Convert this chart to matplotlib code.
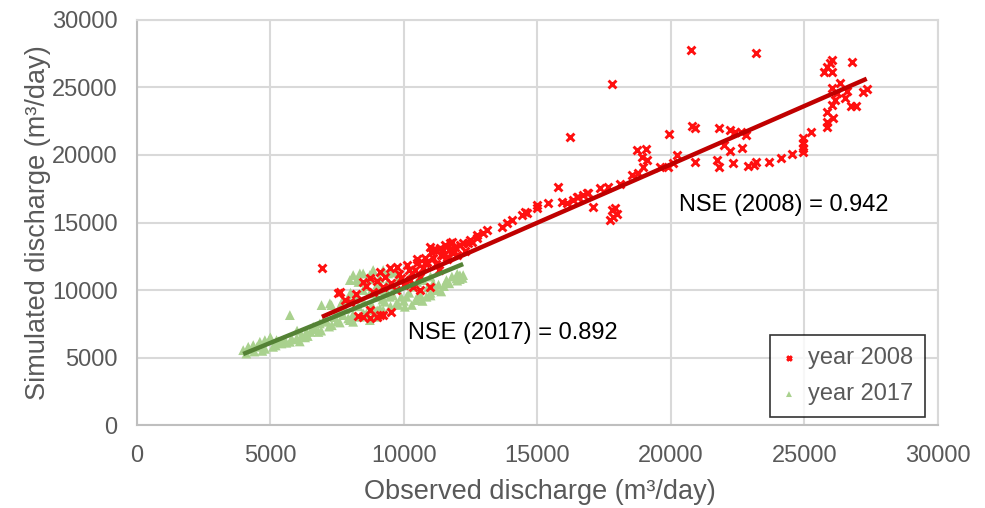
import numpy as np
import matplotlib
matplotlib.use('Agg')
import matplotlib.pyplot as plt

plt.rcParams['font.family'] = ['Liberation Sans', 'DejaVu Sans']

# Observed / simulated discharge (m3/day)
obs_2008 = [26030, 25950, 25840, 25730, 26030, 26780, 26330, 26030, 26590, 26220,
            26520, 27340, 27190, 26140, 26030, 25840, 26070, 25840, 25840, 26740,
            26930, 25240, 24940, 24940, 24940, 24940, 24530, 24120, 23670, 23180,
            23110, 22880, 22660, 22810, 22620, 23180, 20770, 17780, 16220,
            19920, 20780, 20900, 21800, 22210, 22400, 21980, 22210, 21720, 21800,
            22320, 20900, 18730, 19060, 18910, 19100, 18950, 18760, 20220, 20070,
            19890, 19590, 18540, 18090, 17640, 17340, 16850, 16520, 16330, 16100,
            17790, 17900, 17830, 17710, 17980, 15770, 15390, 15920, 14980, 14980,
            14530, 14420, 14610, 14040, 13860, 13670, 13110, 12960, 12730, 12550,
            16480, 16700, 16890, 17080, 11720, 11830, 11460, 11610,
            12730, 12470, 12210, 11800, 11540, 11350, 11090, 10970, 11830, 11460,
            11090, 10860, 10490, 10110, 9740, 9480, 9100, 8730, 8460, 10220,
            10340, 9210, 8840, 7600, 9100, 8730, 8460, 8990, 9210, 6930,
            7530, 7790, 7980, 9500, 9900, 10300, 10700, 11200, 11600, 12000,
            12300, 10600, 11300, 10000, 9700, 10800, 11200, 10400, 10970, 10600,
            8730, 10200, 10800, 11400, 11900, 12400, 10500, 11000, 9800, 9300,
            9000, 8600, 8200, 9500, 8300, 12100, 11700]
sim_2008 = [27040, 26810, 26520, 26150, 26150, 26890, 25330, 24960, 24740, 24590,
            24220, 24890, 24670, 24070, 23700, 23180, 22740, 22440, 22070, 23630,
            23630, 21700, 21260, 20890, 20520, 20220, 20070, 19780, 19480, 19480,
            19260, 19180, 20520, 21480, 21700, 27550, 27730, 25260, 21360,
            21550, 22150, 22000, 22000, 21850, 21700, 20740, 20300, 19630, 19110,
            19410, 19480, 20370, 20440, 19850, 19630, 19110, 18670, 20000, 19410,
            19110, 19110, 18520, 17850, 17630, 17560, 17180, 16890, 16670, 16440,
            15930, 16070, 15410, 15180, 15600, 17630, 16440, 16520, 16300, 16070,
            15780, 15560, 15700, 15180, 14960, 14670, 14440, 14220, 13850, 13560,
            16890, 17040, 17180, 16150, 13480, 12960, 12960, 12440,
            14070, 13700, 13480, 13560, 13330, 13110, 12960, 13180, 12740, 12590,
            12370, 12070, 12000, 11850, 11700, 11630, 11330, 10890, 10590, 10740,
            10220, 10220, 9850, 9850, 8150, 7930, 8000, 8000, 8150, 11630,
            9780, 9260, 9110, 10500, 10900, 11300, 11600, 11900, 12300, 12600,
            12900, 11000, 11500, 10400, 10000, 12400, 13000, 11500, 10220, 10000,
            8520, 11500, 12000, 12600, 13200, 13500, 12300, 12800, 11200, 11000,
            10700, 10300, 9700, 8400, 8100, 13300, 13000]

obs_2017 = [3982, 4170, 4357, 4606, 4794, 4981, 5231, 5418, 5730, 5980,
            6168, 6355, 6604, 6853, 7103, 6916, 7290, 7540, 7727, 7914,
            8101, 8351, 8601, 8851, 9100, 9288, 9351, 8976, 8726, 8476,
            8226, 8101, 8476, 8851, 9225, 5730,
            7228, 7602, 7977, 7977, 8351, 8726, 9100, 9412, 9725, 9100,
            9475, 9725, 9225, 8976, 10100, 10474, 10849, 11223, 11098, 11597,
            11972, 12221, 10349, 10349, 10723, 10037, 8476, 8726, 7977, 12096,
            4100, 4400, 4800, 5200, 5600, 6000, 6400, 6800, 7200, 7600,
            8500, 9000, 9500, 10000, 10500, 11000, 11500, 12000, 5000, 6000,
            4200, 4500, 4700, 5100, 5300, 5500, 5800, 6100, 6300, 6500,
            6700, 6900, 7000, 7300, 7400, 7500, 7800, 7700, 8000, 8200,
            8300, 8500, 8600, 8700, 8900, 9000, 9200, 9300, 9400, 9600,
            9700, 9800, 9900, 10200, 10300, 10600, 10700, 10900, 11000, 11300,
            11400, 11700, 11800, 12000, 12200, 12100, 10500, 11000, 10200, 9800,
            9500, 8300, 8800, 7600, 8100, 8800]
sim_2017 = [5555, 5802, 5926, 6173, 6296, 6420, 6296, 6049, 6173, 6420,
            6666, 6913, 7283, 7530, 7654, 8888, 8888, 8518, 8148, 7901,
            7654, 8024, 8271, 8518, 8641, 9135, 9752, 9505, 9752, 10000,
            10740, 11111, 11234, 11481, 11481, 8148,
            9012, 8765, 9259, 10740, 11234, 11111, 10864, 11234, 11358, 10000,
            9505, 9012, 8518, 8024, 9505, 9259, 9505, 10000, 10493, 10740,
            10864, 11111, 10246, 11234, 10740, 8765, 8271, 7777, 7777, 10814,
            5300, 5450, 5650, 5900, 6100, 6350, 6600, 6900, 7300, 7600,
            8200, 8500, 8800, 9200, 9500, 9800, 10300, 10700, 6500, 7000,
            5600, 5800, 5500, 5800, 6200, 6300, 6400, 6200, 6500, 6900,
            7100, 7000, 7700, 7400, 8000, 7700, 8600, 9200, 9800, 9400,
            8800, 9100, 10300, 10800, 9800, 10400, 9300, 10100, 10600, 9600,
            10300, 8900, 9500, 9800, 8900, 9700, 9200, 10200, 9600, 10400,
            9900, 10500, 11000, 11200, 10900, 11100, 10600, 11000, 10900, 11000,
            11300, 10600, 11200, 8300, 8200, 8900]

# linear trendlines as shown on the chart (slope, intercept)
trend_2008 = (0.8635, 2030)
trend_2017 = (0.808, 2051)

nse_labels = ['NSE (2008) = 0.942', 'NSE (2017) = 0.892']
nse_pos = [(20300, 16300), (10150, 6815)]

grey = '#595959'
grid_col = '#d9d9d9'

fig = plt.figure(figsize=(9.85, 5.08), dpi=100)
ax = fig.add_axes([0.139, 0.163, 0.813, 0.798])

ax.scatter(obs_2017, sim_2017, marker='^', s=50, color='#a9d18e',
           edgecolors='none', zorder=3, label='year 2017')
ax.scatter(obs_2008, sim_2008, marker='x', s=32, color='#ff1010',
           linewidths=2.1, zorder=4, label='year 2008')

for obs, (a, b), col in [(obs_2008, trend_2008, '#c00000'),
                         (obs_2017, trend_2017, '#548235')]:
    xs = np.array([min(obs), max(obs)])
    ax.plot(xs, a * xs + b, color=col, lw=3.2, solid_capstyle='butt', zorder=5)

for txt, (x, y) in zip(nse_labels, nse_pos):
    ax.text(x, y, txt, fontsize=17, color='black', va='center', ha='left', zorder=6)

ax.set_xlim(0, 30000)
ax.set_ylim(0, 30000)
ax.set_xticks(np.arange(0, 30001, 5000))
ax.set_yticks(np.arange(0, 30001, 5000))
ax.grid(True, color=grid_col, lw=1.5)
ax.set_axisbelow(True)
for s in ax.spines.values():
    s.set_color(grid_col)
    s.set_linewidth(1.5)
ax.spines['left'].set_color('#bfbfbf')
ax.spines['bottom'].set_color('#bfbfbf')
ax.tick_params(length=0, labelsize=17, labelcolor=grey, pad=14)

ax.set_xlabel('Observed discharge (m³/day)', fontsize=19.5, color=grey)
ax.set_ylabel('Simulated discharge (m³/day)', fontsize=19.5, color=grey)
ax.xaxis.set_label_coords(0.503, -0.165)
ax.xaxis.label.set_va('center')
ax.yaxis.set_label_coords(-0.124, 0.50)
ax.yaxis.label.set_va('center')

handles, labels = ax.get_legend_handles_labels()
leg = ax.legend(handles[::-1], labels[::-1], loc='lower right',
                bbox_to_anchor=(0.984, 0.02), borderaxespad=0, fontsize=17,
                frameon=True, fancybox=False, edgecolor='black', markerscale=0.6,
                handlelength=0.6, handletextpad=0.5, labelspacing=0.6,
                borderpad=0.5, labelcolor=grey)
leg.get_frame().set_linewidth(1.2)

fig.savefig('out.png', dpi=100, facecolor='white')
